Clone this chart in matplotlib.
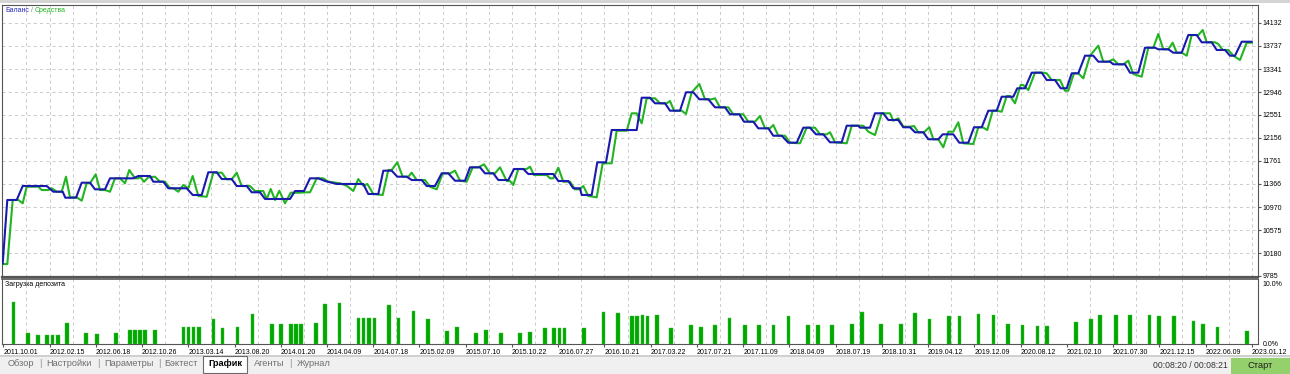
import matplotlib
matplotlib.use('Agg')
import matplotlib.pyplot as plt
from matplotlib.patches import Rectangle

# ---------------- data ----------------
# x = deal position along the tester axis, y = account value
balance_curve = [
    (2.7, 10000), (7.3, 11091), (16.7, 11091), (22.7, 11331), (46.7, 11331), (53.3, 11233), (62.7, 11233),
    (65.3, 11130), (76, 11130), (81.7, 11388), (90, 11388), (95, 11274), (105, 11274), (110, 11463),
    (133.3, 11463), (138.3, 11503), (150, 11503), (153.3, 11405), (163.3, 11405), (168.3, 11292),
    (186.7, 11292), (192.7, 11177), (201.7, 11177), (208.3, 11567), (216.7, 11567), (221.7, 11451),
    (231.7, 11451), (236.7, 11331), (246.7, 11331), (251.7, 11223), (260, 11223), (265, 11108),
    (290, 11108), (295, 11245), (304, 11245), (310, 11463), (318.3, 11463), (325, 11417), (336.7, 11366),
    (363.3, 11366), (368.3, 11194), (378.3, 11194), (383.3, 11594), (391.7, 11594), (397.3, 11491),
    (406.7, 11491), (411.7, 11434), (421.7, 11434), (426.7, 11331), (435, 11331), (441.7, 11549),
    (448.3, 11549), (455, 11422), (465, 11422), (470, 11652), (480, 11652), (485, 11549), (493.3, 11549),
    (498.3, 11434), (508.3, 11434), (514, 11623), (523.3, 11623), (528.3, 11537), (553.3, 11537),
    (558.3, 11417), (568.3, 11417), (573.3, 11292), (580, 11292), (581.7, 11177), (591.7, 11177),
    (597.3, 11738), (606, 11738), (611.7, 12293), (636.7, 12293), (641.7, 12848), (650, 12848),
    (655, 12752), (665, 12752), (670, 12625), (680, 12625), (686, 12941), (693.3, 12941), (699.3, 12821),
    (708.3, 12821), (715, 12683), (725, 12683), (730, 12563), (739.3, 12563), (744, 12436), (753.3, 12436),
    (758.3, 12322), (768.3, 12322), (773.3, 12195), (781.7, 12195), (788.3, 12075), (796.7, 12075),
    (803.3, 12333), (810, 12333), (816, 12219), (823.3, 12219), (830, 12082), (841.7, 12082),
    (846.7, 12367), (858.3, 12367), (860, 12333), (870, 12333), (875, 12580), (883.3, 12580),
    (888.3, 12465), (898.3, 12465), (903.3, 12340), (910, 12340), (915, 12254), (923.3, 12254),
    (928.3, 12134), (938.3, 12134), (942.7, 12219), (953.3, 12219), (959.3, 12075), (968.3, 12075),
    (974, 12340), (981.7, 12340), (988.3, 12625), (996.7, 12625), (1001.7, 12865), (1013.3, 12865),
    (1017.3, 13010), (1025, 13010), (1031.7, 13278), (1041.7, 13278), (1046.7, 13152), (1055, 13152),
    (1060.7, 13010), (1066.7, 13010), (1071.7, 13267), (1078.3, 13267), (1085, 13570), (1093.3, 13570),
    (1098.3, 13467), (1110, 13467), (1113.3, 13422), (1125, 13422), (1130, 13278), (1138.3, 13278),
    (1145, 13707), (1155, 13707), (1158.3, 13680), (1168.3, 13680), (1173.3, 13621), (1181.7, 13621),
    (1188.3, 13925), (1196.7, 13925), (1201.7, 13800), (1211.7, 13800), (1216.7, 13668), (1225, 13668),
    (1230, 13570), (1235, 13570), (1241.7, 13810), (1251.7, 13810),
]

equity_curve = [
    (2.7, 9990), (7.3, 9990), (12.7, 11091), (18.3, 11091), (22.7, 11034), (26.7, 11319), (38.3, 11319),
    (41.7, 11262), (48.3, 11262), (51.7, 11292), (56.7, 11233), (61.7, 11233), (66, 11491), (70, 11137),
    (76.7, 11137), (81.7, 11079), (86.7, 11378), (90, 11378), (95.7, 11532), (100, 11262), (105, 11262),
    (110, 11233), (115, 11463), (120, 11463), (125, 11378), (129.3, 11606), (135, 11463), (138.3, 11463),
    (140, 11491), (144, 11405), (148.3, 11481), (155, 11491), (160, 11405), (165, 11405), (170, 11292),
    (173.3, 11292), (178.3, 11233), (183.3, 11348), (188.3, 11292), (192.7, 11503), (198.3, 11159),
    (206.7, 11147), (213.3, 11560), (221.7, 11560), (226.7, 11446), (231.7, 11446), (236.7, 11560),
    (241.7, 11331), (250, 11331), (255, 11245), (263.3, 11245), (266.7, 11108), (270.7, 11280),
    (275, 11091), (279.3, 11250), (285, 11034), (290.7, 11216), (300, 11216), (305, 11223), (310, 11223),
    (316.7, 11463), (323.3, 11463), (328.3, 11405), (340, 11378), (346.7, 11336), (353.3, 11245),
    (358.3, 11451), (363.3, 11336), (367.3, 11366), (373.3, 11194), (382.7, 11177), (388.3, 11606),
    (391.7, 11606), (397.3, 11738), (402.7, 11491), (408.3, 11491), (411.7, 11560), (416.7, 11434),
    (425, 11434), (430, 11319), (436.7, 11274), (442.7, 11549), (450, 11549), (455, 11594), (460, 11422),
    (466.7, 11405), (472.7, 11652), (478.3, 11652), (484, 11704), (490, 11549), (495, 11549),
    (500, 11652), (506.7, 11417), (510, 11417), (513.3, 11348), (518.3, 11623), (526.7, 11623),
    (530, 11663), (534, 11520), (546.7, 11520), (550, 11463), (553.3, 11463), (558.3, 11646),
    (563.3, 11405), (570, 11405), (575, 11274), (579.3, 11274), (583.3, 11331), (588.3, 11159),
    (596.7, 11137), (602.7, 11721), (611.7, 11721), (616.7, 12281), (626.7, 12281), (631.7, 12580),
    (636.7, 12580), (641.7, 12408), (646.7, 12838), (655, 12838), (660, 12752), (666.7, 12752),
    (670, 12792), (674, 12625), (681.7, 12625), (686, 12568), (691.7, 12941), (699.3, 13084),
    (705, 12821), (711.7, 12821), (715, 12838), (720, 12683), (728.3, 12683), (733.3, 12563),
    (743.3, 12563), (748.3, 12436), (755, 12436), (760, 12534), (765, 12322), (770, 12322),
    (773.3, 12379), (778.3, 12195), (785, 12195), (790, 12075), (800, 12065), (806.7, 12333),
    (815, 12333), (820, 12219), (826.7, 12219), (830, 12254), (835, 12082), (846.7, 12065),
    (851.7, 12367), (863.3, 12367), (868.3, 12264), (875, 12207), (881.7, 12580), (890, 12580),
    (893.3, 12453), (898.3, 12494), (903.3, 12350), (910, 12350), (914, 12362), (918.3, 12254),
    (924, 12254), (929.3, 12340), (933.3, 12134), (938.3, 12134), (943.3, 11996), (948.3, 12264),
    (953.3, 12264), (958.3, 12426), (963.3, 12065), (973.3, 12053), (978.3, 12340), (982.7, 12340),
    (987.3, 12293), (992.7, 12625), (996.7, 12625), (1001.7, 12608), (1006.7, 12877), (1010, 12877),
    (1015, 12752), (1020.7, 13066), (1023.3, 13066), (1028.3, 12980), (1035, 13278), (1043.3, 13278),
    (1046.7, 13267), (1051.7, 13152), (1060, 13152), (1065, 12968), (1068.3, 12968), (1074, 13267),
    (1078.3, 13267), (1083.3, 13181), (1090, 13570), (1098.3, 13742), (1103.3, 13467), (1108.3, 13467),
    (1113.3, 13508), (1118.3, 13422), (1123.3, 13422), (1128.3, 13484), (1133.3, 13255), (1141.7, 13209),
    (1148.3, 13707), (1153.3, 13707), (1158.3, 13943), (1163.3, 13680), (1168.3, 13680), (1172.7, 13793),
    (1176.7, 13621), (1181.7, 13621), (1186.7, 13570), (1191.7, 13925), (1198.3, 13925), (1202.7, 14011),
    (1206.7, 13800), (1215, 13800), (1218.3, 13771), (1222.7, 13668), (1228.3, 13668), (1233.3, 13570),
    (1240, 13496), (1246.7, 13793), (1251.7, 13793),
]

# deposit load bars (position, percent)
deposit_load = [
    (13.3, 7.0), (27.7, 1.8), (37.7, 1.5), (46.7, 1.5), (52.3, 1.5), (57.7, 1.5), (66.7, 3.5), (86, 1.8),
    (96.7, 1.7), (115.7, 1.9), (130, 2.4), (135, 2.4), (140, 2.4), (145, 2.4), (155, 2.4), (183.3, 2.8),
    (188.3, 2.8), (193.3, 2.8), (199, 2.8), (213.3, 4.2), (222.7, 2.7), (237.7, 2.8), (252.3, 5.0),
    (271.7, 3.3), (281, 3.3), (291, 3.3), (296, 3.3), (301, 3.3), (316, 3.5), (325, 6.7), (339.3, 6.8),
    (358.3, 4.3), (363.3, 4.3), (369, 4.3), (374.3, 4.4), (389, 6.5), (398.3, 4.4), (413.3, 5.5),
    (427.7, 4.2), (446.7, 2.1), (456.7, 2.8), (475.7, 1.8), (486, 2.3), (500.7, 1.9), (520, 1.8),
    (530, 2.0), (544.7, 2.6), (554, 2.6), (559.3, 2.6), (564.3, 2.6), (584, 2.7), (603.3, 5.4),
    (617.7, 5.1), (631.7, 4.7), (636.7, 4.7), (642.3, 4.8), (647.3, 4.6), (656.7, 4.8), (671, 2.6),
    (690.7, 3.2), (700.7, 2.9), (715, 3.1), (729.3, 4.4), (745, 3.1), (759, 3.1), (773.3, 3.2),
    (788.3, 4.6), (807.7, 3.2), (817.7, 3.1), (831.7, 3.2), (851.7, 3.3), (861.7, 5.3), (881, 3.3),
    (900.7, 3.3), (915, 5.1), (929.3, 4.1), (949, 4.6), (959.3, 4.7), (978.3, 5.0), (993.3, 4.9),
    (1007.7, 3.4), (1022.3, 3.2), (1037.3, 3.0), (1046.7, 3.0), (1076, 3.6), (1090.7, 4.1), (1100, 4.8),
    (1115.7, 4.9), (1130, 4.8), (1149.3, 4.8), (1159, 4.6), (1174, 4.6), (1193.3, 3.8), (1202.7, 3.4),
    (1217.3, 2.9), (1246.7, 2.2),
]

date_labels = ['2011.10.01', '2012.02.15', '2012.06.18', '2012.10.26', '2013.03.14', '2013.08.20',
               '2014.01.20', '2014.04.09', '2014.07.18', '2015.02.09', '2015.07.10', '2015.10.22',
               '2016.07.27', '2016.10.21', '2017.03.22', '2017.07.21', '2017.11.09', '2018.04.09',
               '2018.07.19', '2018.10.31', '2019.04.12', '2019.12.09', '2020.08.12', '2021.02.10',
               '2021.07.30', '2021.12.15', '2022.06.09', '2023.01.12']
value_ticks = [9785, 10180, 10575, 10970, 11366, 11761, 12156, 12551, 12946, 13341, 13737, 14132]
load_ticks = [0, 10]
load_tick_labels = ['0.0%', '10.0%']
tabs = ['Обзор', 'Настройки', 'Параметры', 'Бэктест', 'График', 'Агенты', 'Журнал']

# ---------------- layout ----------------
W, H = 1290, 374
plt.rcParams['font.family'] = ['Liberation Sans', 'DejaVu Sans']
fig = plt.figure(figsize=(W / 100, H / 100), dpi=100, facecolor='white')


def frect(x0, y0, x1, y1):
    return [x0 / W, 1 - y1 / H, (x1 - x0) / W, (y1 - y0) / H]


def add_rect(x0, y0, x1, y1, **kw):
    r = Rectangle((x0 / W, 1 - y1 / H), (x1 - x0) / W, (y1 - y0) / H,
                  transform=fig.transFigure, **kw)
    fig.patches.append(r)
    return r


add_rect(0, 0, W, 3, facecolor='#D4D4D4', edgecolor='none', zorder=0)

ax = fig.add_axes(frect(2, 4.5, 1257.5, 277))
axl = fig.add_axes(frect(2, 278.5, 1257.5, 344))
XMIN, XMAX = 2, 1257.5
label_step = 46.24
label_start = 3.3
small = 5.0

spine_c = '#555555'
grid_c = '#CDCDCD'
for a in (ax, axl):
    a.set_xlim(XMIN, XMAX)
    a.set_facecolor('white')
    for s in a.spines.values():
        s.set_color(spine_c)
        s.set_linewidth(0.8)
ax.spines['bottom'].set_linewidth(1.6)
axl.spines['top'].set_linewidth(1.2)

# main y range
ax.set_ylim(9767.8, 14449.4)

# grids
half_steps = [label_start + label_step / 2 * k for k in range(1, 55)]
for i, gx in enumerate(half_steps):
    ax.axvline(gx, color=grid_c, lw=0.75, ls=(0, (3, 3)), zorder=1)
    if i % 2 == 0:
        axl.axvline(gx, color=grid_c, lw=0.75, ls=(0, (3, 3)), zorder=1)
for v in value_ticks[1:]:
    ax.axhline(v, color=grid_c, lw=0.75, ls=(0, (3, 3)), zorder=1)

# lines
ex, ev = zip(*equity_curve)
bx, bv = zip(*balance_curve)
ax.plot(ex, ev, color='#22B422', lw=1.5, zorder=3, solid_joinstyle='round')
ax.plot(bx, bv, color='#1A1AAE', lw=1.5, zorder=4, solid_joinstyle='round')

# ticks main
ax.set_xticks([])
ax.yaxis.tick_right()
ax.set_yticks(value_ticks)
ax.set_yticklabels([str(v) for v in value_ticks])
ax.tick_params(axis='y', length=2.2, width=0.8, color=spine_c, pad=1.5, labelsize=small, labelcolor='black')

# lower panel
lx, lp = zip(*deposit_load)
axl.bar(lx, lp, width=3.6, color='#00A800', edgecolor='#40C040', linewidth=0.3, zorder=3)
axl.set_ylim(0, 65.5 / 6)
axl.yaxis.tick_right()
axl.set_yticks(load_ticks)
axl.set_yticklabels(load_tick_labels)
axl.tick_params(axis='y', length=0, pad=3.6, labelsize=small, labelcolor='black')
tick_pos = [label_start + label_step * k for k in range(len(date_labels))]
axl.set_xticks(tick_pos)
axl.set_xticklabels(date_labels, ha='left')
axl.tick_params(axis='x', length=2.2, width=0.8, color=spine_c, pad=1.2, labelsize=small, labelcolor='black')

# titles
t1 = fig.text(5 / W, 1 - 10.5 / H, 'Баланс', color='#2525C0', fontsize=small, va='center', ha='left')
t2 = ax.annotate(' / ', xy=(1, 0), xycoords=t1, va='bottom', ha='left', color='#808080', fontsize=small)
t3 = ax.annotate('Средства', xy=(1, 0), xycoords=t2, va='bottom', ha='left', color='#22B422', fontsize=small)
fig.text(5 / W, 1 - 285 / H, 'Загрузка депозита', color='black', fontsize=small, va='center', ha='left')

# bottom tab bar
add_rect(0, 355, W, 357, facecolor='#D0D0D0', edgecolor='none', zorder=0)
add_rect(0, 357, W, H, facecolor='#F0F0F0', edgecolor='none', zorder=0)
add_rect(203.3, 356, 246.7, 373, facecolor='white', edgecolor='#6A6A6A', linewidth=0.8, zorder=1)
tab_x = [20.8, 69.3, 128.8, 180.8, 225, 268.8, 313.8]
sep_x = [40.7, 98.7, 159.3, 290]
for name, x in zip(tabs, tab_x):
    sel = name == 'График'
    fig.text(x / W, 1 - 364 / H, name, fontsize=6.7, ha='center', va='center',
             color='black' if sel else '#707070', fontweight='bold' if sel else 'normal', zorder=2)
for x in sep_x:
    fig.text(x / W, 1 - 364 / H, '|', fontsize=6.7, ha='center', va='center', color='#909090')
fig.text(1190.3 / W, 1 - 365.5 / H, '00:08:20 / 00:08:21', fontsize=6.2, ha='center', va='center', color='#333333')
add_rect(1231, 358, W, H, facecolor='#94D06C', edgecolor='none', zorder=1)
fig.text(1260 / W, 1 - 366 / H, 'Старт', fontsize=6.7, ha='center', va='center', color='#202020', zorder=2)

fig.savefig('out.png', dpi=100, facecolor='white')
